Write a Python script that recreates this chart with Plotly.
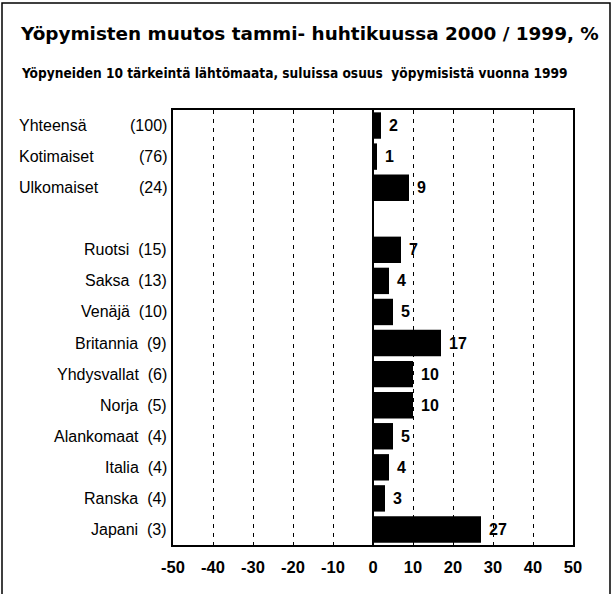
import plotly.graph_objects as go

# ---- data ----
top_names = ["Yhteensä", "Kotimaiset", "Ulkomaiset"]
top_shares = [100, 76, 24]
top_changes = [2, 1, 9]

country_names = ["Ruotsi", "Saksa", "Venäjä", "Britannia", "Yhdysvallat",
                 "Norja", "Alankomaat", "Italia", "Ranska", "Japani"]
country_shares = [15, 13, 10, 9, 6, 5, 4, 4, 4, 3]
country_changes = [7, 4, 5, 17, 10, 10, 5, 4, 3, 27]

x_ticks = [-50, -40, -30, -20, -10, 0, 10, 20, 30, 40, 50]

title = "Yöpymisten muutos tammi- huhtikuussa 2000 / 1999, %"
subtitle = "Yöpyneiden 10 tärkeintä lähtömaata, suluissa osuus  yöpymisistä vuonna 1999"

# positions: top group rows 0..2, blank row 3, countries 4..13
top_pos = list(range(len(top_names)))
country_pos = [len(top_names) + 1 + i for i in range(len(country_names))]

W, H = 611, 594
L, R, T, B = 173, 38, 110, 49
pw, ph = W - L - R, H - T - B


def px_x(px):
    return (px - L) / pw


def px_y(py):
    return (H - B - py) / ph


FONT = "Liberation Sans, Arial, sans-serif"

fig = go.Figure()
all_pos = top_pos + country_pos
all_vals = top_changes + country_changes
fig.add_trace(go.Bar(
    x=all_vals, y=all_pos, orientation="h",
    marker=dict(color="black", line=dict(width=0)),
    width=0.85,
    hoverinfo="skip",
))

ann = []
for v, p in zip(all_vals, all_pos):
    ann.append(dict(x=v, y=p, xref="x", yref="y", text=f"<b>{v}</b>",
                    xanchor="left", yanchor="middle", showarrow=False, xshift=6,
                    font=dict(family=FONT, size=16, color="black")))
for n, s, p in zip(top_names, top_shares, top_pos):
    ann.append(dict(x=px_x(17), y=p, xref="paper", yref="y", text=n,
                    xanchor="left", yanchor="middle", showarrow=False,
                    font=dict(family=FONT, size=16, color="black")))
    ann.append(dict(x=px_x(169), y=p, xref="paper", yref="y", text=f"({s})",
                    xanchor="right", yanchor="middle", showarrow=False,
                    font=dict(family=FONT, size=16, color="black")))
for n, s, p in zip(country_names, country_shares, country_pos):
    ann.append(dict(x=px_x(169), y=p, xref="paper", yref="y",
                    text=f"{n}\u00a0 ({s})",
                    xanchor="right", yanchor="middle", showarrow=False,
                    font=dict(family=FONT, size=16, color="black")))

ann.append(dict(x=px_x(18), y=px_y(34), xref="paper", yref="paper", text=f"<b>{title}</b>",
                xanchor="left", yanchor="middle", showarrow=False,
                font=dict(family="DejaVu Sans, sans-serif", size=18.4, color="black")))
ann.append(dict(x=px_x(19), y=px_y(73), xref="paper", yref="paper", text=f"<b>{subtitle}</b>",
                xanchor="left", yanchor="middle", showarrow=False,
                font=dict(family="Liberation Sans Narrow, DejaVu Sans Condensed, sans-serif",
                          size=13.6, color="black")))

fig.update_layout(
    width=W, height=H,
    margin=dict(l=L, r=R, t=T, b=B),
    paper_bgcolor="white", plot_bgcolor="white",
    showlegend=False,
    annotations=ann,
    shapes=[dict(type="rect", xref="paper", yref="paper",
                 x0=px_x(2), x1=px_x(610), y0=px_y(610), y1=px_y(3),
                 line=dict(color="black", width=1.5))],
    xaxis=dict(range=[-50, 50], tickvals=x_ticks,
               ticktext=[f"<b>{v}</b>" for v in x_ticks],
               showgrid=True, gridcolor="black", gridwidth=1, griddash="4px,5px",
               zeroline=True, zerolinecolor="black", zerolinewidth=1.5,
               showline=True, linecolor="black", linewidth=1.5, mirror=True,
               ticks="", ticklabelstandoff=6,
               tickfont=dict(family=FONT, size=16.5, color="black"),
               fixedrange=True),
    yaxis=dict(range=[13.5, -0.5], showticklabels=False, showgrid=False,
               zeroline=False, showline=True, linecolor="black", linewidth=1.5,
               mirror=True, ticks="", fixedrange=True),
)

fig.write_html("out.html", config={"displayModeBar": False},
               post_script="document.body.style.margin='0';document.body.style.overflow='hidden';")
